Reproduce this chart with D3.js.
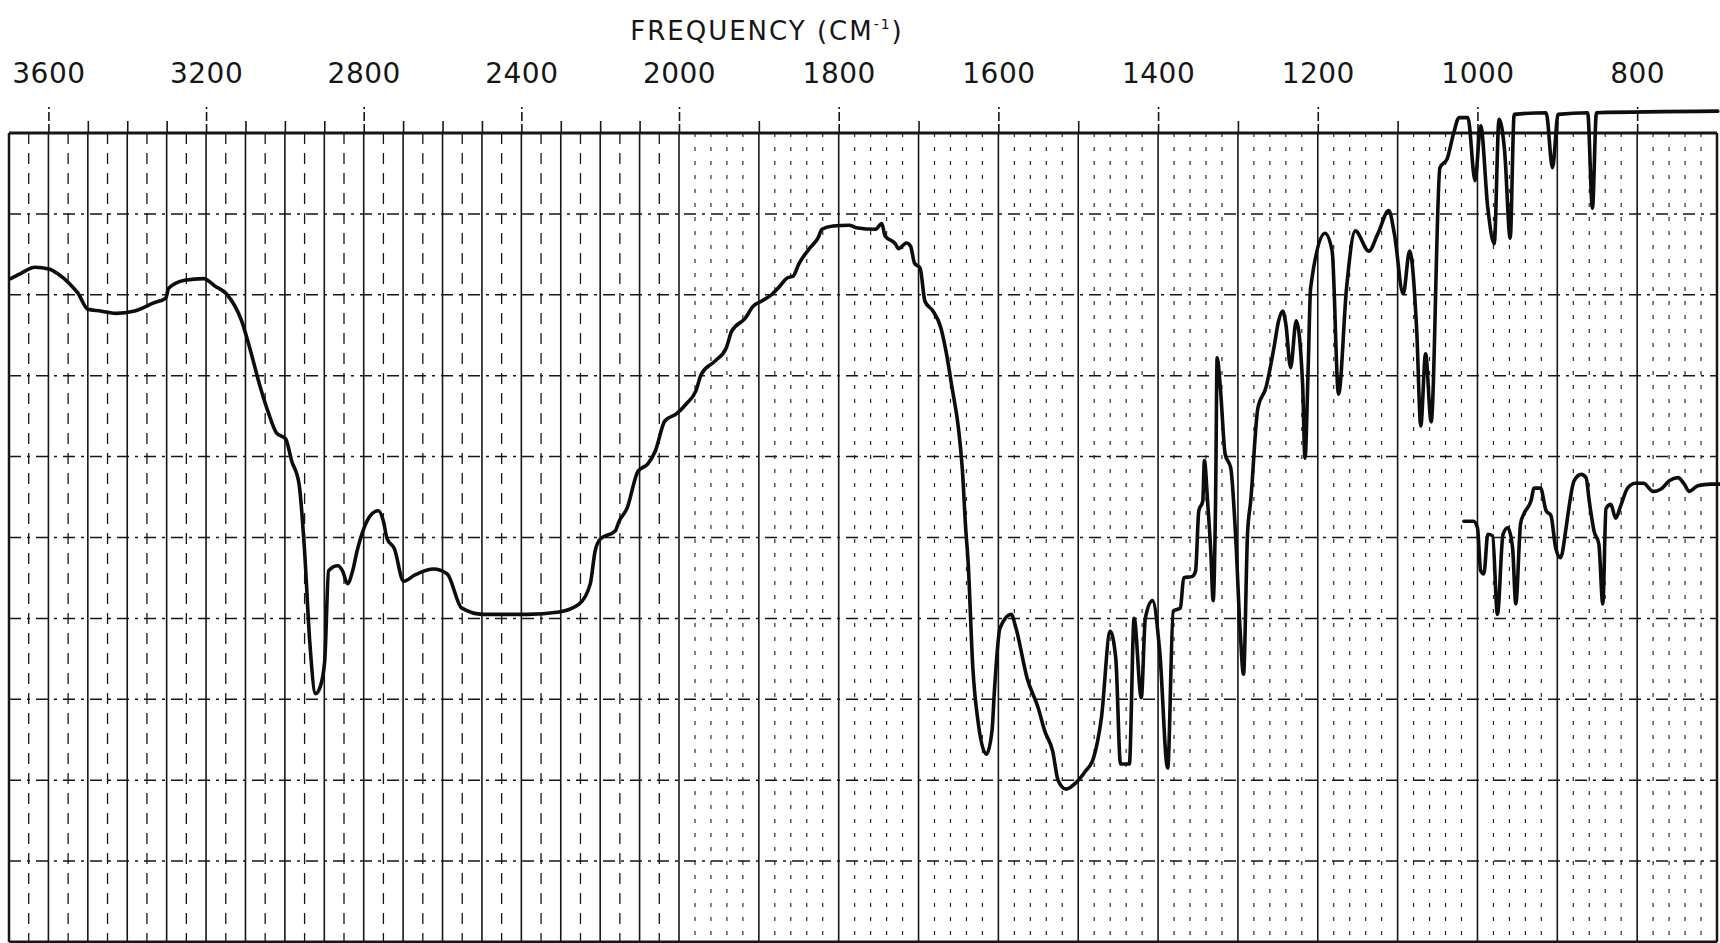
<!DOCTYPE html>
<html><head><meta charset="utf-8">
<script src="https://cdn.jsdelivr.net/npm/d3@7"></script>
<style>html,body{margin:0;padding:0;background:#fff;overflow:hidden}</style>
</head><body>
<svg id="chart" width="1720" height="943"></svg>
<script>
// ---- data ----
const tickLabels = [3600, 3200, 2800, 2400, 2000, 1800, 1600, 1400, 1200, 1000, 800];

const mainWavenumber = [3696,3672,3634,3599,3576,3545,3525,3500,3468,3429,3381,3333,3302,3295,3254,3206,3178,3148,3110,3089,3062,3041,3021,2998,2983,2964,2950,2937,2922,2910,2899,2889,2866,2854,2841,2828,2817,2799,2783,2763,2750,2741,2722,2699,2669,2623,2588,2552,2497,2385,2304,2253,2225,2213,2200,2162,2152,2132,2104,2079,2060,2036,2006,
1991,1979,1972,1955,1941,1934,1917,1907,1897,1883,1876,1864,1857,1850,1836,1826,1821,1807,1787,1778,1754,1746,1742,1729,1725,1715,1710,1705,1698,1692,1682,1672,1665,1658,1650,1645,1641,1638,1632,1625,1615,1608,1605,1598,1584,1578,1564,1550,1542,1532,1525,1515,1505,1491,1481,1471,1460,1453,1447,1436,1430,1421,1416,1407,1398,1388,1381,1372,1368,1357,1353,1349,1344,1342,1338,1334,1331,1328,1326,1322,1316,1309,1303,1297,1293,1288,1284,1275,1265,1255,1249,1244,1240,1234,1227,1219,1216,1212,1209,1191,1182,1174,1164,1153,1136,1125,1111,1104,1093,1085,1076,1071,1065,1058,1047,1038,1030,1023,1012,1003,996,987,979,973,966,959,954,914,906,899,862,856,851,699];
const mainTransmittance = [82.0,82.6,83.4,83.2,82.6,81.3,80.2,78.2,78.0,77.7,78.0,79.0,79.6,80.8,81.8,82.0,81.1,80.1,76.8,73.4,68.5,65.3,62.9,62.2,59.5,56.6,48.3,37.2,30.7,31.6,34.7,45.9,46.5,45.9,44.3,45.9,48.3,51.2,52.7,53.3,52.0,49.9,48.6,44.6,45.4,46.1,45.5,41.3,40.5,40.5,40.8,41.8,44.3,48.3,49.8,50.8,52.0,53.6,58.2,59.1,60.7,64.4,65.3,
66.5,68.1,70.2,71.8,73.4,75.5,77.1,78.6,79.2,80.1,80.8,82.1,82.3,83.8,85.8,87.0,88.1,88.5,88.6,88.3,88.1,88.8,87.3,86.3,85.7,86.4,86.0,83.9,83.3,79.2,78.0,75.9,72.7,68.5,63.5,58.2,51.2,47.1,33.9,26.9,23.2,26.1,31.0,38.8,40.5,38.8,32.6,28.9,26.1,23.6,19.9,18.9,19.5,21.1,22.7,27.7,38.4,35.1,22.0,22.0,40.0,30.2,40.0,42.2,36.0,21.5,40.9,41.3,45.0,45.2,45.9,53.3,54.5,59.5,54.5,48.3,42.2,54.5,72.2,68.5,60.3,58.6,50.4,38.1,33.1,50.4,54.5,66.0,68.5,73.4,76.8,78.0,76.4,71.0,76.8,69.0,59.8,71.0,80.8,87.6,85.4,67.7,80.8,87.9,85.4,87.5,90.4,87.5,80.1,85.4,75.4,63.8,72.7,64.3,95.7,96.8,99.9,101.9,101.9,94.1,100.9,90.7,86.3,101.7,97.8,87.0,102.3,102.5,95.7,102.3,102.5,90.7,102.5,102.7];

const lowerWavenumber = [1017,1005,1000,996,992,987,981,975,968,962,956,952,946,942,933,929,921,914,908,902,896,889,886,879,870,864,860,854,848,843,839,833,827,820,812,802,792,780,770,760,749,741,735,724,708,695];
const lowerTransmittance = [52.0,52.0,51.2,45.9,45.5,50.4,50.2,40.5,50.4,51.2,48.7,41.8,51.7,52.9,54.5,56.1,56.1,53.3,52.7,48.7,47.5,51.2,53.3,57.0,57.8,57.4,54.5,50.8,49.2,41.8,53.6,54.1,52.4,54.1,56.1,56.7,56.7,55.7,56.0,57.0,57.4,56.6,55.7,56.4,56.6,56.6];

const gridPercent = [10, 20, 30, 40, 50, 60, 70, 80, 90];

// ---- scales ----
const x = d3.scaleLinear().domain([3700, 2000, 700]).range([9, 679, 1717]);
const y = d3.scaleLinear().domain([0, 100]).range([942, 133]);

const svg = d3.select("#chart");
const ink = "#161616";

// grid: solid verticals every 100 cm-1
const solidV = d3.range(3600, 700, -100);
svg.append("g").selectAll("line").data(solidV).join("line")
  .attr("x1", d => x(d)).attr("x2", d => x(d))
  .attr("y1", y(100)).attr("y2", y(0))
  .attr("stroke", ink).attr("stroke-width", 1.6);

// dashed verticals: every 50 above 2000
const dashHigh = d3.range(3650, 2000, -100);
svg.append("g").selectAll("line").data(dashHigh).join("line")
  .attr("x1", d => x(d)).attr("x2", d => x(d))
  .attr("y1", y(100)).attr("y2", y(0))
  .attr("stroke", ink).attr("stroke-width", 1.3)
  .attr("stroke-dasharray", "11,9");

// dotted verticals: every 20 below 2000
const dashLow = d3.range(1980, 700, -20).filter(d => d % 100 !== 0);
svg.append("g").selectAll("line").data(dashLow).join("line")
  .attr("x1", d => x(d)).attr("x2", d => x(d))
  .attr("y1", y(100)).attr("y2", y(0))
  .attr("stroke", "#2a2a2a").attr("stroke-width", 1.2)
  .attr("stroke-dasharray", "4,10");

// dash-dot horizontals every 10 %T
svg.append("g").selectAll("line").data(gridPercent).join("line")
  .attr("x1", x(3700)).attr("x2", x(700))
  .attr("y1", d => y(d)).attr("y2", d => y(d))
  .attr("stroke", ink).attr("stroke-width", 1.5)
  .attr("stroke-dasharray", "12,6,3,6");

// frame
svg.append("line").attr("x1", x(3700)).attr("x2", x(700)).attr("y1", y(100)).attr("y2", y(100))
  .attr("stroke", ink).attr("stroke-width", 3);
svg.append("line").attr("x1", x(3700)).attr("x2", x(700)).attr("y1", y(0)).attr("y2", y(0))
  .attr("stroke", ink).attr("stroke-width", 3);
svg.append("line").attr("x1", x(3700)).attr("x2", x(3700)).attr("y1", y(100)).attr("y2", y(0))
  .attr("stroke", ink).attr("stroke-width", 2.5);
svg.append("line").attr("x1", x(700)).attr("x2", x(700)).attr("y1", y(100)).attr("y2", y(0))
  .attr("stroke", ink).attr("stroke-width", 2.5);

// top axis: minor ticks every 100, labelled ticks longer
const minorAxis = d3.axisTop(x).tickValues(solidV.filter(d => !tickLabels.includes(d)))
  .tickSize(12).tickFormat("");
const gMinor = svg.append("g").attr("transform", `translate(0,${y(100)})`).call(minorAxis);
gMinor.select(".domain").remove();
gMinor.selectAll("line").attr("stroke", ink).attr("stroke-width", 1.6);

const majorAxis = d3.axisTop(x).tickValues(tickLabels).tickSize(26).tickPadding(24)
  .tickFormat(d3.format("d"));
const gMajor = svg.append("g").attr("transform", `translate(0,${y(100)})`).call(majorAxis);
gMajor.select(".domain").remove();
gMajor.selectAll("line").attr("stroke", ink).attr("stroke-width", 1.6).attr("stroke-dasharray", "9,3");
gMajor.selectAll("text")
  .attr("fill", ink).attr("font-family", "'DejaVu Sans', sans-serif")
  .attr("font-size", 28).attr("letter-spacing", 0.5);

// title
const title = svg.append("text").attr("x", 767).attr("y", 40)
  .attr("text-anchor", "middle").attr("fill", ink)
  .attr("font-family", "'DejaVu Sans', sans-serif").attr("font-size", 26)
  .attr("letter-spacing", 2);
title.append("tspan").text("FREQUENCY (CM");
title.append("tspan").attr("font-size", 14).attr("dy", -11).text("-1");
title.append("tspan").attr("dy", 11).text(")");

// spectrum traces
const line = d3.line().x(d => x(d[0])).y(d => y(d[1])).curve(d3.curveMonotoneX);
const mainData = d3.zip(mainWavenumber, mainTransmittance);
const lowerData = d3.zip(lowerWavenumber, lowerTransmittance);

svg.append("path").datum(mainData).attr("d", line)
  .attr("fill", "none").attr("stroke", "#0d0d0d").attr("stroke-width", 3.6)
  .attr("stroke-linejoin", "round").attr("stroke-linecap", "round");
svg.append("path").datum(lowerData).attr("d", line)
  .attr("fill", "none").attr("stroke", "#0d0d0d").attr("stroke-width", 3.6)
  .attr("stroke-linejoin", "round").attr("stroke-linecap", "round");
</script>
</body></html>
